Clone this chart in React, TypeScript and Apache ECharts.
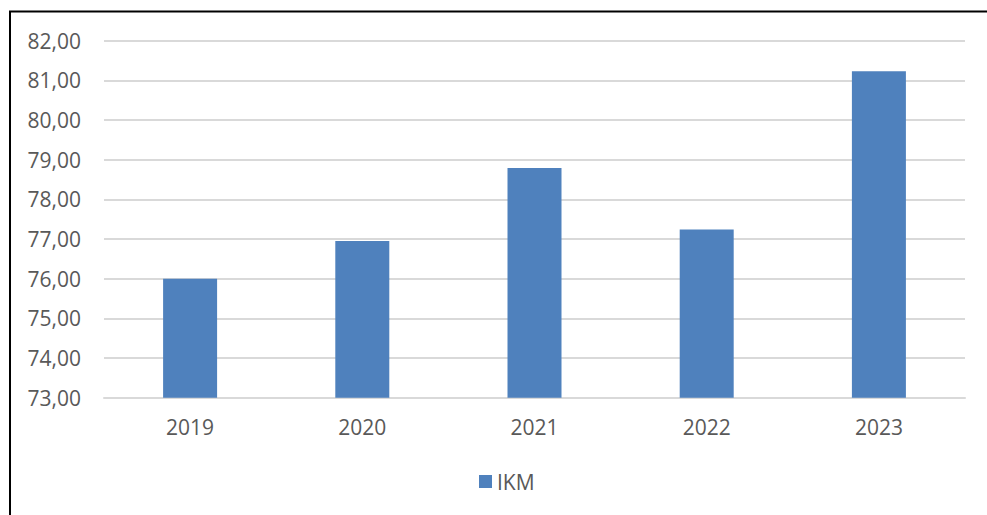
import React, { useEffect, useRef } from "react";
import * as echarts from "echarts";

const categories = ["2019", "2020", "2021", "2022", "2023"];
const ikmValues = [76.0, 76.95, 78.79, 77.24, 81.23];
const seriesName = "IKM";
const yMin = 73;
const yMax = 82;
const yInterval = 1;

export default function App() {
  const ref = useRef<HTMLDivElement>(null);
  useEffect(() => {
    if (!ref.current) return;
    const chart = echarts.init(ref.current, null, { renderer: "svg" });
    const font = "'Open Sans', 'Noto Sans', sans-serif";
    chart.setOption({
      animation: false,
      backgroundColor: "#ffffff",
      textStyle: { fontFamily: font },
      graphic: [
        {
          type: "rect",
          shape: { x: 10, y: 11.5, width: 1000, height: 600 },
          style: { fill: "none", stroke: "#000000", lineWidth: 2 },
          silent: true,
        },
      ],
      grid: { left: 104, right: 22, top: 40.7, bottom: 117.3 },
      legend: {
        data: [seriesName],
        left: 474,
        top: 466,
        icon: "rect",
        itemWidth: 13,
        itemHeight: 13,
        itemGap: 10,
        textStyle: { color: "#595959", fontSize: 21, fontFamily: font },
      },
      xAxis: {
        type: "category",
        data: categories,
        axisLine: { show: true, lineStyle: { color: "#d9d9d9", width: 2 } },
        axisTick: { show: false },
        axisLabel: { color: "#595959", fontSize: 21, margin: 19, fontFamily: font },
      },
      yAxis: {
        type: "value",
        min: yMin,
        max: yMax,
        interval: yInterval,
        axisLine: { show: false },
        axisTick: { show: false },
        splitLine: { lineStyle: { color: "#d9d9d9", width: 2 } },
        axisLabel: {
          color: "#595959",
          fontSize: 21,
          margin: 23,
          fontFamily: font,
          formatter: (v: number) => v.toFixed(2).replace(".", ","),
        },
      },
      series: [
        {
          name: seriesName,
          type: "bar",
          data: ikmValues,
          barWidth: 54,
          itemStyle: { color: "#4f81bd" },
        },
      ],
    });
    return () => chart.dispose();
  }, []);
  return (
    <div
      ref={ref}
      style={{ position: "absolute", left: 0, top: 0, width: 987, height: 515 }}
    />
  );
}
